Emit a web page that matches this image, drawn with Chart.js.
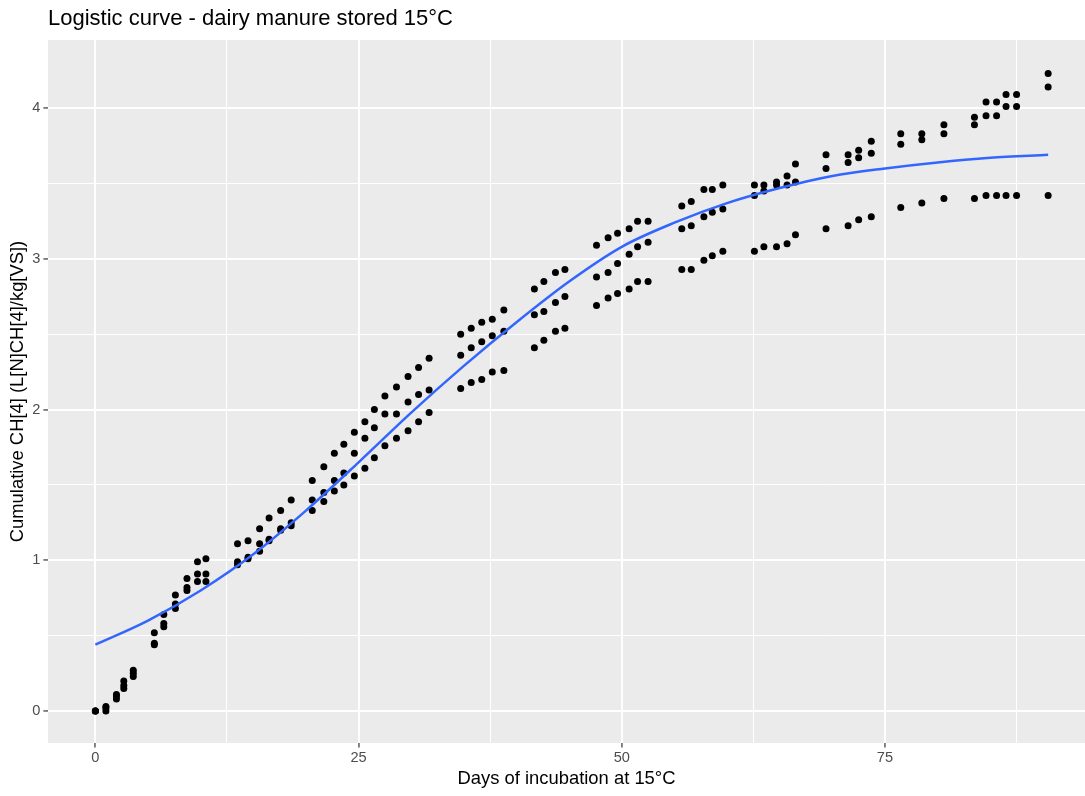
<!DOCTYPE html>
<html>
<head>
<meta charset="utf-8">
<title>Logistic curve - dairy manure stored 15°C</title>
<script src="https://cdn.jsdelivr.net/npm/chart.js@4.4.1/dist/chart.umd.min.js"></script>
<style>
  html, body { margin: 0; padding: 0; background: #ffffff; overflow: hidden; }
  canvas { display: block; }
</style>
</head>
<body>
<!-- a few px wider than the window so the grey panel runs to the right edge -->
<canvas id="methaneChart" width="1089" height="796"></canvas>
<script>
// Days of incubation at which the replicates were measured
const days = [0, 1, 2, 2.7, 3.6, 5.6, 6.5, 7.6, 8.7, 9.7, 10.5, 13.5, 14.5, 15.6, 16.5, 17.6, 18.6,
  20.6, 21.7, 22.7, 23.6, 24.6, 25.6, 26.5, 27.5, 28.6, 29.7, 30.7, 31.7, 34.7, 35.7, 36.7, 37.7, 38.8,
  41.7, 42.6, 43.7, 44.6, 47.6, 48.7, 49.6, 50.7, 51.5, 52.5, 55.7, 56.6, 57.8, 58.6, 59.6,
  62.6, 63.5, 64.7, 65.7, 66.5, 69.4, 71.5, 72.5, 73.7, 76.5, 78.5, 80.6, 83.5, 84.6, 85.6, 86.5, 87.5, 90.5];

// Cumulative CH4 for the three replicates
const rep1 = [0, 0.03, 0.11, 0.20, 0.27, 0.52, 0.64, 0.77, 0.88, 0.99, 1.01, 1.11, 1.13, 1.21, 1.28, 1.33, 1.40,
  1.53, 1.62, 1.71, 1.77, 1.85, 1.92, 2.00, 2.09, 2.15, 2.22, 2.28, 2.34, 2.50, 2.54, 2.58, 2.60, 2.66,
  2.80, 2.85, 2.91, 2.93, 3.09, 3.14, 3.17, 3.20, 3.25, 3.25, 3.35, 3.38, 3.46, 3.46, 3.49,
  3.49, 3.49, 3.51, 3.55, 3.63, 3.69, 3.69, 3.72, 3.78, 3.83, 3.83, 3.89, 3.94, 4.04, 4.04, 4.09, 4.09, 4.23];
const rep2 = [0, 0.02, 0.10, 0.17, 0.25, 0.45, 0.58, 0.71, 0.82, 0.91, 0.91, 0.99, 1.02, 1.11, 1.14, 1.21, 1.25,
  1.40, 1.45, 1.53, 1.58, 1.71, 1.81, 1.88, 1.97, 1.97, 2.05, 2.10, 2.13, 2.36, 2.41, 2.45, 2.49, 2.52,
  2.63, 2.65, 2.71, 2.75, 2.88, 2.91, 2.97, 3.03, 3.08, 3.11, 3.20, 3.22, 3.28, 3.31, 3.33,
  3.42, 3.45, 3.49, 3.49, 3.51, 3.60, 3.64, 3.67, 3.70, 3.76, 3.79, 3.83, 3.89, 3.95, 3.95, 4.01, 4.01, 4.14];
const rep3 = [0, 0.00, 0.08, 0.15, 0.23, 0.44, 0.56, 0.68, 0.80, 0.86, 0.86, 0.97, 1.01, 1.06, 1.13, 1.20, 1.23,
  1.33, 1.39, 1.46, 1.50, 1.56, 1.61, 1.68, 1.76, 1.81, 1.86, 1.92, 1.98, 2.14, 2.18, 2.20, 2.25, 2.26,
  2.41, 2.46, 2.52, 2.54, 2.69, 2.74, 2.77, 2.80, 2.85, 2.85, 2.93, 2.93, 2.99, 3.02, 3.05,
  3.05, 3.08, 3.08, 3.10, 3.16, 3.20, 3.22, 3.26, 3.28, 3.34, 3.37, 3.40, 3.40, 3.42, 3.42, 3.42, 3.42, 3.42];

// Fitted logistic curve
const curveDays = [0, 5, 10, 15, 20, 25, 30, 35, 40, 45, 50, 55, 60, 65, 70, 75, 80, 85, 90.5];
const curveValues = [0.44, 0.60, 0.80, 1.04, 1.33, 1.65, 1.98, 2.29, 2.58, 2.85, 3.08, 3.24, 3.37, 3.47, 3.55, 3.60, 3.64, 3.67, 3.69];

// Axis ticks (major ones get labels, the halfway ones are minor grid lines)
const xTicks = [0, 12.5, 25, 37.5, 50, 62.5, 75, 87.5];
const xLabels = [0, 25, 50, 75];
const yTicks = [0, 0.5, 1, 1.5, 2, 2.5, 3, 3.5, 4];
const yLabels = [0, 1, 2, 3, 4];

const points = days.flatMap((d, i) => [
  { x: d, y: rep1[i] },
  { x: d, y: rep2[i] },
  { x: d, y: rep3[i] }
]);
const curve = curveDays.map((d, i) => ({ x: d, y: curveValues[i] }));

const FONT = "'Liberation Sans', Arial, sans-serif";

// grey panel behind the plot area
const panelBackground = {
  id: 'panelBackground',
  beforeDraw(chart) {
    const { ctx, chartArea: a } = chart;
    ctx.save();
    ctx.fillStyle = '#EBEBEB';
    ctx.fillRect(a.left, a.top, a.right - a.left, a.bottom - a.top);
    ctx.restore();
  }
};

const gridStyle = (labels) => ({
  color: '#FFFFFF',
  lineWidth: (c) => labels.includes(c.tick.value) ? 1.9 : 1,
  tickColor: (c) => labels.includes(c.tick.value) ? '#333333' : 'rgba(0,0,0,0)',
  tickWidth: 1.2,
  tickLength: 4.6
});

const ctx = document.getElementById('methaneChart').getContext('2d');

const methaneChart = new Chart(ctx, {
  type: 'scatter',
  data: {
    datasets: [
      {
        type: 'line',
        label: 'logistic fit',
        data: curve,
        borderColor: '#3366FF',
        borderWidth: 2.5,
        pointRadius: 0,
        fill: false,
        cubicInterpolationMode: 'monotone',
        order: 0
      },
      {
        label: 'CH4',
        data: points,
        backgroundColor: '#000000',
        borderWidth: 0,
        pointRadius: 3.5,
        order: 1
      }
    ]
  },
  options: {
    responsive: false,
    animation: false,
    layout: { padding: 0 },
    plugins: {
      legend: { display: false },
      tooltip: { enabled: false },
      title: {
        display: true,
        text: 'Logistic curve - dairy manure stored 15°C',
        align: 'start',
        fullSize: false,
        color: '#000000',
        font: { family: FONT, size: 22, weight: 'normal', lineHeight: 1.2 },
        padding: { top: 6, bottom: 7.6 }
      }
    },
    scales: {
      x: {
        type: 'linear',
        min: -4.5,
        max: 94,
        afterBuildTicks: (s) => { s.ticks = xTicks.map(v => ({ value: v })); },
        afterFit: (s) => { s.height = 53; },
        grid: gridStyle(xLabels),
        border: { display: false },
        ticks: {
          autoSkip: false,
          maxRotation: 0,
          padding: 1.5,
          color: '#4D4D4D',
          font: { family: FONT, size: 14.6 },
          callback: (v) => xLabels.includes(v) ? String(v) : ''
        },
        title: {
          display: true,
          text: 'Days of incubation at 15°C',
          color: '#000000',
          font: { family: FONT, size: 18.4, lineHeight: 1.2 },
          padding: { top: 0, bottom: 6 }
        }
      },
      y: {
        type: 'linear',
        min: -0.212,
        max: 4.452,
        afterBuildTicks: (s) => { s.ticks = yTicks.map(v => ({ value: v })); },
        afterFit: (s) => { s.width = 48; },
        grid: gridStyle(yLabels),
        border: { display: false },
        ticks: {
          autoSkip: false,
          padding: 3,
          color: '#4D4D4D',
          font: { family: FONT, size: 14.6 },
          callback: (v) => yLabels.includes(v) ? String(v) : ''
        },
        title: {
          display: true,
          text: 'Cumulative CH[4] (L[N]CH[4]/kg[VS])',
          color: '#000000',
          font: { family: FONT, size: 18.4, lineHeight: 1.2 },
          padding: { top: 7, bottom: 0 }
        }
      }
    }
  },
  plugins: [panelBackground]
});
</script>
</body>
</html>
